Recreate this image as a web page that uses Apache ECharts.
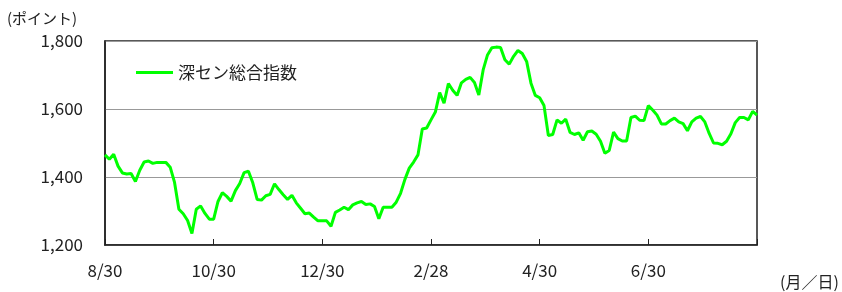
<!DOCTYPE html>
<html>
<head>
<meta charset="utf-8">
<script src="https://cdn.jsdelivr.net/npm/echarts@6/dist/echarts.min.js"></script>
<style>
  html, body { margin: 0; padding: 0; background: #fff; }
  #chart { width: 842px; height: 292px; }
</style>
</head>
<body>
<div id="chart"></div>
<script>
// tick labels on the x axis, one every 25 points
const tickLabels = ['8/30', '10/30', '12/30', '2/28', '4/30', '6/30']
const step = 25
const seriesName = '深セン総合指数'
const values = [
  1465, 1452, 1467, 1432, 1412, 1409, 1410, 1387, 1420, 1444,
  1447, 1440, 1443, 1443, 1443, 1429, 1384, 1305, 1292, 1272,
  1234, 1305, 1315, 1293, 1276, 1276, 1328, 1354, 1343, 1329,
  1360, 1381, 1413, 1417, 1383, 1334, 1332, 1345, 1349, 1380,
  1363, 1348, 1334, 1346, 1324, 1308, 1292, 1294, 1282, 1271,
  1271, 1271, 1255, 1296, 1303, 1311, 1304, 1318, 1324, 1328,
  1319, 1321, 1313, 1277, 1311, 1311, 1311, 1326, 1352, 1393,
  1426, 1444, 1465, 1541, 1544, 1568, 1591, 1648, 1617, 1675,
  1655, 1640, 1677, 1687, 1693, 1678, 1641, 1715, 1759, 1780,
  1782, 1781, 1745, 1732, 1755, 1772, 1763, 1740, 1676, 1640,
  1633, 1610, 1522, 1525, 1568, 1558, 1570, 1531, 1525, 1530,
  1508, 1533, 1535, 1526, 1505, 1470, 1478, 1532, 1513, 1506,
  1506, 1575, 1579, 1567, 1566, 1610, 1597, 1582, 1556, 1556,
  1566, 1573, 1562, 1557, 1536, 1562, 1573, 1578, 1562, 1528,
  1500, 1499, 1495, 1505, 1527, 1560, 1575, 1575, 1568, 1593,
  1582
]

const categories = values.map((v, i) => (i % step === 0 ? (tickLabels[i / step] || '') : ''))

const font = '"Noto Sans CJK JP", "Noto Sans", sans-serif'
const myChart = echarts.init(document.getElementById('chart'))

const option = {
  backgroundColor: '#fff',
  animation: false,
  textStyle: { fontFamily: font },
  grid: {
    left: 105,
    right: 85,
    top: 41,
    bottom: 47,
    show: true,
    borderColor: '#222',
    borderWidth: 1.5
  },
  legend: {
    left: 136,
    top: 64,
    padding: 0,
    itemWidth: 37,
    itemHeight: 3,
    itemGap: 5,
    icon: 'rect',
    textStyle: { fontFamily: font, fontSize: 17, color: '#222' },
    data: [seriesName]
  },
  xAxis: {
    type: 'category',
    boundaryGap: false,
    data: categories,
    axisLine: { lineStyle: { color: '#222', width: 1.5 } },
    axisTick: {
      inside: true,
      length: 6,
      interval: (i) => i % step === 0,
      lineStyle: { color: '#222' }
    },
    axisLabel: {
      interval: (i) => i % step === 0,
      margin: 17,
      fontSize: 17,
      color: '#222',
      fontFamily: font
    },
    splitLine: { show: false }
  },
  yAxis: {
    type: 'value',
    min: 1200,
    max: 1800,
    interval: 200,
    axisLine: { show: true, lineStyle: { color: '#222', width: 1.5 } },
    axisTick: { show: false },
    axisLabel: {
      margin: 22,
      fontSize: 17,
      color: '#222',
      fontFamily: font,
      formatter: (v) => v.toLocaleString('en-US')
    },
    splitLine: { lineStyle: { color: '#999', width: 1 } }
  },
  graphic: [
    {
      type: 'text',
      left: 7,
      top: 11,
      style: { text: '(ポイント)', font: '15px ' + font, fill: '#222' }
    },
    {
      type: 'text',
      left: 780,
      top: 274,
      style: { text: '(月／日)', font: '16px ' + font, fill: '#222' }
    }
  ],
  series: [
    {
      name: seriesName,
      type: 'line',
      data: values,
      showSymbol: false,
      symbol: 'none',
      lineStyle: { color: '#00ff00', width: 3 },
      itemStyle: { color: '#00ff00' }
    }
  ]
}

myChart.setOption(option)
</script>
</body>
</html>
